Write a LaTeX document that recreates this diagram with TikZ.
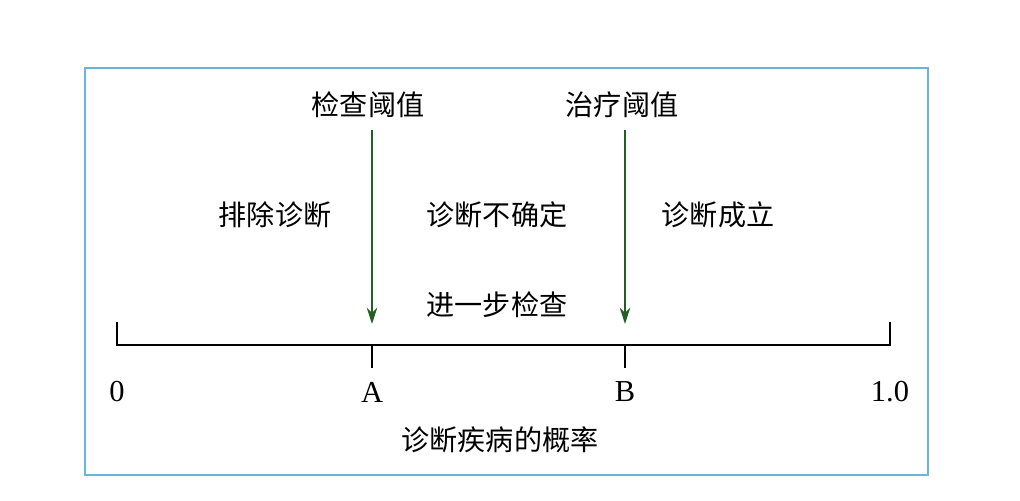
\documentclass[tikz,border=0pt]{standalone}
\usepackage{fontspec}
\setmainfont{Liberation Serif}
\newfontfamily\cjk{Noto Sans CJK SC}
\usetikzlibrary{arrows.meta}
\definecolor{frameblue}{RGB}{110,180,215}
\definecolor{arrgreen}{RGB}{35,95,35}
\begin{document}
\begin{tikzpicture}[x=0.03cm,y=-0.03cm,
  lab/.style={font=\cjk\fontsize{24}{28}\selectfont,inner sep=0pt},
  num/.style={font=\fontsize{26}{30}\selectfont,inner sep=0pt},
  thr/.style={draw=arrgreen,line width=1.2pt,-{Stealth[length=14pt,width=9pt]}}]
\useasboundingbox (0,0) rectangle (1020,500);
\draw[frameblue,line width=1.5pt] (85,68) rectangle (928,475);
\coordinate (L) at (117,345); \coordinate (R) at (890,345);
\coordinate (A) at (372,345); \coordinate (B) at (625,345);
\draw[line width=1pt] (117,322) -- (L) -- (R) -- (890,322);
\draw[line width=1pt] (A) -- (372,368);
\draw[line width=1pt] (B) -- (625,368);
\node[num] (n0) at (117,392) {0};
\node[num] (nA) at (372,392) {A};
\node[num] (nB) at (625,392) {B};
\node[num] (n1) at (890,392) {1.0};
\node[lab] (x) at (500,440) {诊断疾病的概率};
\node[lab] (t1) at (368,105) {检查阈值};
\node[lab] (t2) at (622,105) {治疗阈值};
\coordinate (a1) at (372,130); \coordinate (a1e) at (372,324);
\coordinate (a2) at (625,130); \coordinate (a2e) at (625,324);
\draw[thr] (a1) -- (a1e);
\draw[thr] (a2) -- (a2e);
\node[lab] (r1) at (275,215) {排除诊断};
\node[lab] (r2) at (497,215) {诊断不确定};
\node[lab] (r3) at (718,215) {诊断成立};
\node[lab] (r4) at (497,305) {进一步检查};
\end{tikzpicture}
\end{document}
